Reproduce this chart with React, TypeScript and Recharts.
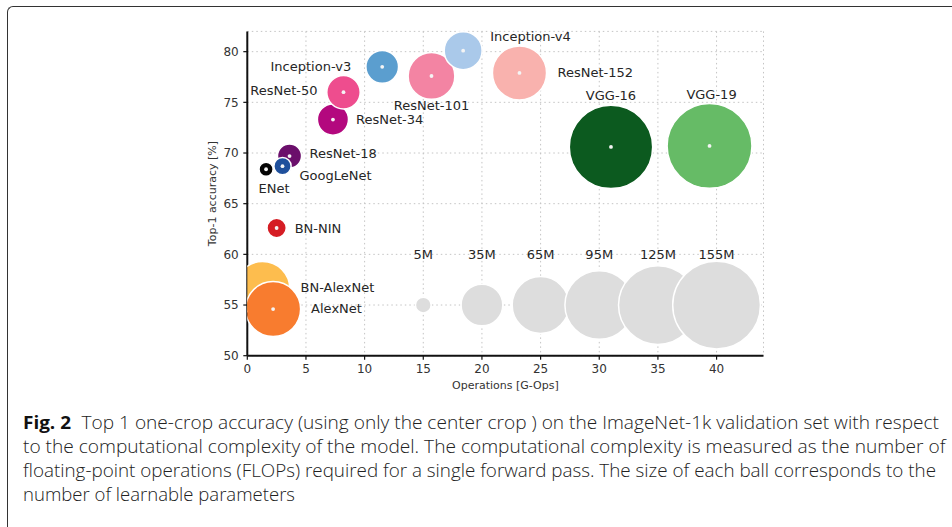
import { ScatterChart, Scatter, XAxis, YAxis, ZAxis, CartesianGrid, Label } from 'recharts';

// models, in drawing order (later ones are painted on top)
const models = [
  'ENet', 'ResNet-18', 'GoogLeNet', 'ResNet-34', 'ResNet-50', 'Inception-v3', 'ResNet-101',
  'Inception-v4', 'ResNet-152', 'VGG-16', 'VGG-19', 'BN-NIN', 'BN-AlexNet', 'AlexNet',
];
const gOps = [1.6, 3.6, 3.0, 7.3, 8.2, 11.5, 15.7, 18.4, 23.2, 31.0, 39.4, 2.5, 1.3, 2.2];
const top1 = [68.4, 69.7, 68.7, 73.3, 76.0, 78.5, 77.6, 80.1, 77.9, 70.6, 70.7, 62.6, 56.6, 54.6];
const paramsM = [4, 11.7, 6, 19.5, 22.5, 21.5, 44, 29, 59, 140, 145, 7.5, 60, 61];

// size legend balls
const refNames = ['5M', '35M', '65M', '95M', '125M', '155M'];
const refOps = [15, 20, 25, 30, 35, 40];
const refParams = [5, 35, 65, 95, 125, 155];
const refTop1 = [55, 55, 55, 55, 55, 55];

const xTicks = [0, 5, 10, 15, 20, 25, 30, 35, 40];
const yTicks = [50, 55, 60, 65, 70, 75, 80];

const captionLines = [
  'Top 1 one-crop accuracy (using only the center crop ) on the ImageNet-1k validation set with respect',
  'to the computational complexity of the model. The computational complexity is measured as the number of',
  'floating-point operations (FLOPs) required for a single forward pass. The size of each ball corresponds to the',
  'number of learnable parameters',
];

const COLORS: Record<string, string> = {
  'ENet': '#050505',
  'ResNet-18': '#6b0f6b',
  'GoogLeNet': '#1f509c',
  'ResNet-34': '#b3087e',
  'ResNet-50': '#ee4d8e',
  'Inception-v3': '#5b9ecf',
  'ResNet-101': '#f384a3',
  'Inception-v4': '#aac9ea',
  'ResNet-152': '#f9b2ae',
  'VGG-16': '#0c5a1f',
  'VGG-19': '#66bb66',
  'BN-NIN': '#d51d24',
  'BN-AlexNet': '#fdbd4e',
  'AlexNet': '#f87c2f',
};

// label offset from ball centre, in px
const LABEL_POS: Record<string, [number, number, 'start' | 'middle' | 'end']> = {
  'ENet': [8, 19, 'middle'],
  'ResNet-18': [20, -3, 'start'],
  'GoogLeNet': [17, 9, 'start'],
  'ResNet-34': [23, 0, 'start'],
  'ResNet-50': [-26, -1.5, 'end'],
  'Inception-v3': [-31, -0.5, 'end'],
  'ResNet-101': [0, 30, 'middle'],
  'Inception-v4': [27, -14, 'start'],
  'ResNet-152': [38, -0.5, 'start'],
  'VGG-16': [0, -51.5, 'middle'],
  'VGG-19': [2, -51, 'middle'],
  'BN-NIN': [18, 0, 'start'],
  'BN-AlexNet': [38, -1.3, 'start'],
  'AlexNet': [38, -1, 'start'],
};

const modelData = models.map((name, i) => ({ name, x: gOps[i], y: top1[i], z: paramsM[i] }));
const refData = refNames.map((name, i) => ({ name, x: refOps[i], y: refTop1[i], z: refParams[i] }));

const FONT = 'DejaVu Sans, sans-serif';

const Ball = (props: any) => {
  const { cx, cy, width, payload } = props;
  const r = width / 2;
  const isRef = refNames.includes(payload.name);
  return (
    <g>
      <circle cx={cx} cy={cy} r={r} fill={isRef ? '#dddddd' : COLORS[payload.name]} stroke="#fff" strokeWidth={1.5} />
      {!isRef && <circle cx={cx} cy={cy} r={1.9} fill="#f4f4f4" />}
    </g>
  );
};

const ModelLabel = (props: any) => {
  const { cx, cy, payload } = props;
  const [dx, dy, anchor] = LABEL_POS[payload.name];
  return (
    <text x={cx + dx} y={cy + dy} textAnchor={anchor} dominantBaseline="central" fontSize={13} fontFamily={FONT} fill="#262626">
      {payload.name}
    </text>
  );
};

const RefLabel = (props: any) => {
  const { cx, cy, payload } = props;
  return (
    <text x={cx} y={cy - 51} textAnchor="middle" dominantBaseline="central" fontSize={13} fontFamily={FONT} fill="#262626">
      {payload.name}
    </text>
  );
};

export default function App() {
  return (
    <div style={{ position: 'absolute', left: 0, top: 0, width: 952, height: 527, overflow: 'hidden', background: '#fff' }}>
      <div
        style={{
          position: 'absolute', left: 7, top: 6, width: 1000, height: 600,
          borderTop: '1.5px solid #333', borderLeft: '1.5px solid #333', borderTopLeftRadius: 6,
        }}
      />
      <div style={{ position: 'absolute', left: 0, top: 0 }}>
        <ScatterChart width={952} height={400} margin={{ top: 31.4, right: 188.5, bottom: 4.3, left: 187.3 }}>
          <CartesianGrid stroke="#c4c4c4" strokeDasharray="1.5 3" />
          <XAxis
            type="number" dataKey="x" domain={[0, 44]} ticks={xTicks} allowDataOverflow height={40}
            axisLine={{ stroke: '#111', strokeWidth: 2 }} tickLine={{ stroke: '#111', strokeWidth: 1.2 }}
            tickSize={4} tickMargin={5} tick={{ fontSize: 12, fontFamily: FONT, fill: '#333' }}
          >
            <Label
              content={(p: any) => (
                <text x={p.viewBox.x + p.viewBox.width / 2} y={p.viewBox.y + 29.5} textAnchor="middle" dominantBaseline="central" fontSize={11} fontFamily={FONT} fill="#333">
                  Operations [G-Ops]
                </text>
              )}
            />
          </XAxis>
          <YAxis
            type="number" dataKey="y" domain={[50, 82]} ticks={yTicks} width={60}
            axisLine={{ stroke: '#111', strokeWidth: 2 }} tickLine={{ stroke: '#111', strokeWidth: 1.2 }}
            tickSize={4} tickMargin={4.6} tick={{ fontSize: 12, fontFamily: FONT, fill: '#333' }}
          >
            <Label
              content={(p: any) => {
                const cx = p.viewBox.x + p.viewBox.width - 34.3;
                const cy = p.viewBox.y + p.viewBox.height / 2;
                return (
                  <text x={cx} y={cy} transform={`rotate(-90 ${cx} ${cy})`} textAnchor="middle" dominantBaseline="central" fontSize={11} fontFamily={FONT} fill="#333">
                    Top-1 accuracy [%]
                  </text>
                );
              }}
            />
          </YAxis>
          <ZAxis type="number" dataKey="z" domain={[0, 200]} range={[0, 7800]} />
          <Scatter data={refData} shape={Ball} isAnimationActive={false} />
          <Scatter data={modelData} shape={Ball} isAnimationActive={false} />
          <Scatter data={modelData} shape={ModelLabel} isAnimationActive={false} />
          <Scatter data={refData} shape={RefLabel} isAnimationActive={false} />
        </ScatterChart>
      </div>
      <svg width={952} height={527} style={{ position: 'absolute', left: 0, top: 0 }}>
        <text x={23} y={429} fontSize={18} fontFamily="Open Sans, sans-serif" fontWeight={700} fill="#111" textLength={48} lengthAdjust="spacingAndGlyphs">
          Fig. 2
        </text>
        {captionLines.map((line, i) => {
          const x = i === 0 ? 81.5 : 23;
          const ends = [939, 945.5, 936, 295];
          return (
            <text key={i} x={x} y={429 + i * 23.9} fontSize={18} fontFamily="Open Sans, sans-serif" fontWeight={300} fill="#222" textLength={ends[i] - x} lengthAdjust="spacingAndGlyphs">
              {line}
            </text>
          );
        })}
      </svg>
    </div>
  );
}
